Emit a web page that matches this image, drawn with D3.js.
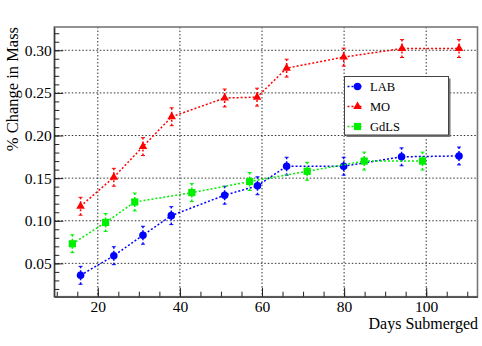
<!DOCTYPE html>
<html>
<head>
<meta charset="utf-8">
<script src="https://cdn.jsdelivr.net/npm/d3@7"></script>
<style>
  body { margin: 0; background: #fff; }
  svg text { font-family: "Liberation Serif", "DejaVu Serif", serif !important; }
</style>
</head>
<body>
<svg id="chart"></svg>
<script>
// data
var labDays = [15.8, 23.9, 31.0, 37.9, 50.9, 58.9, 66.0, 79.9, 94.0, 108.0];
var labMass = [0.036, 0.059, 0.083, 0.106, 0.130, 0.141, 0.164, 0.164, 0.175, 0.176];
var moDays = [15.8, 23.9, 31.0, 38.0, 50.9, 58.8, 66.0, 79.9, 94.1, 108.0];
var moMass = [0.117, 0.151, 0.187, 0.222, 0.244, 0.245, 0.279, 0.292, 0.302, 0.302];
var gdDays = [13.8, 21.9, 29.0, 42.9, 57.0, 71.0, 84.9, 99.1];
var gdMass = [0.073, 0.098, 0.122, 0.133, 0.146, 0.158, 0.170, 0.170];
var massErr = 0.0105;
var seriesNames = ['LAB', 'MO', 'GdLS'];
var xTicks = [20, 40, 60, 80, 100];
var yTicks = [0.05, 0.10, 0.15, 0.20, 0.25, 0.30];

var svgWidth = 482, svgHeight = 346;
var margin = { top: 27, right: 4.5, bottom: 49.3, left: 54.3 };
var width = svgWidth - margin.left - margin.right;
var height = svgHeight - margin.top - margin.bottom;

var svg = d3.select('#chart')
    .attr('width', svgWidth)
    .attr('height', svgHeight);

var chartArea = svg.append('g')
    .attr('transform', 'translate(' + margin.left + ',' + margin.top + ')');

var x = d3.scaleLinear().domain([9.4, 112.5]).range([0, width]);
var y = d3.scaleLinear().domain([0.0109, 0.3273]).range([height, 0]);

// grid
chartArea.append('g').selectAll('line')
    .data(xTicks).enter().append('line')
    .attr('x1', function(d) { return x(d); })
    .attr('x2', function(d) { return x(d); })
    .attr('y1', 0).attr('y2', height)
    .attr('stroke', '#333').attr('stroke-width', 1)
    .attr('stroke-dasharray', '1.5,2');
chartArea.append('g').selectAll('line')
    .data(yTicks).enter().append('line')
    .attr('x1', 0).attr('x2', width)
    .attr('y1', function(d) { return y(d); })
    .attr('y2', function(d) { return y(d); })
    .attr('stroke', '#333').attr('stroke-width', 1)
    .attr('stroke-dasharray', '1.5,2');

// frame
chartArea.append('rect')
    .attr('width', width).attr('height', height)
    .attr('fill', 'none').attr('stroke', '#777').attr('stroke-width', 1.6);

// minor ticks
var xMinor = d3.range(10, 112, 5);
var yMinor = d3.range(0.02, 0.33, 0.01);
chartArea.append('g')
    .attr('transform', 'translate(0,' + height + ')')
    .call(d3.axisBottom(x).tickValues(xMinor).tickSizeInner(-5).tickSizeOuter(0).tickFormat(''))
    .call(function(g) { g.select('.domain').remove(); });
chartArea.append('g')
    .call(d3.axisLeft(y).tickValues(yMinor).tickSizeInner(-5).tickSizeOuter(0).tickFormat(''))
    .call(function(g) { g.select('.domain').remove(); });

// major axes
var xAxis = chartArea.append('g')
    .attr('transform', 'translate(0,' + height + ')')
    .call(d3.axisBottom(x).tickValues(xTicks).tickSizeInner(-9).tickSizeOuter(0).tickPadding(4));
var yAxis = chartArea.append('g')
    .call(d3.axisLeft(y).tickValues(yTicks).tickSizeInner(-9).tickSizeOuter(0).tickPadding(2.5)
        .tickFormat(d3.format('.2f')));
chartArea.selectAll('.tick line').attr('stroke', '#222');
chartArea.selectAll('.domain').attr('stroke', '#222');
xAxis.attr('font-size', 15.5).selectAll('text').attr('fill', '#000');
yAxis.attr('font-size', 15.5).selectAll('text').attr('fill', '#000');

// axis titles
svg.append('text')
    .attr('x', 478).attr('y', 329)
    .attr('text-anchor', 'end')
    .style('font-size', '16px')
    .text('Days Submerged');
svg.append('text')
    .attr('transform', 'translate(18,27) rotate(-90)')
    .attr('text-anchor', 'end')
    .style('font-size', '16.5px')
    .text('% Change in Mass');

var series = [
    { name: seriesNames[0], days: labDays, mass: labMass, color: '#0000ff', shape: d3.symbolCircle, size: 45 },
    { name: seriesNames[1], days: moDays, mass: moMass, color: '#ff0000', shape: d3.symbolTriangle, size: 32 },
    { name: seriesNames[2], days: gdDays, mass: gdMass, color: '#00ee00', shape: d3.symbolSquare, size: 52 }
];

var line = d3.line()
    .x(function(d) { return x(d[0]); })
    .y(function(d) { return y(d[1]); });

series.forEach(function(s) {
    var pts = s.days.map(function(d, i) { return [d, s.mass[i]]; });
    var g = chartArea.append('g');

    g.append('path')
        .datum(pts)
        .attr('d', line)
        .attr('fill', 'none')
        .attr('stroke', s.color)
        .attr('stroke-width', 1.5)
        .attr('stroke-dasharray', '2,2');

    // error bars
    g.selectAll('.err').data(pts).enter().append('line')
        .attr('x1', function(d) { return x(d[0]); })
        .attr('x2', function(d) { return x(d[0]); })
        .attr('y1', function(d) { return y(d[1] - massErr); })
        .attr('y2', function(d) { return y(d[1] + massErr); })
        .attr('stroke', s.color).attr('stroke-width', 1.5)
        .attr('stroke-dasharray', '2,2');
    g.selectAll('.cap').data(pts.concat(pts)).enter().append('line')
        .attr('x1', function(d) { return x(d[0]) - 2; })
        .attr('x2', function(d) { return x(d[0]) + 2; })
        .attr('y1', function(d, i) { return y(d[1] + (i < pts.length ? massErr : -massErr)); })
        .attr('y2', function(d, i) { return y(d[1] + (i < pts.length ? massErr : -massErr)); })
        .attr('stroke', s.color).attr('stroke-width', 1);

    g.selectAll('.mark').data(pts).enter().append('path')
        .attr('d', d3.symbol().type(s.shape).size(s.size))
        .attr('transform', function(d) { return 'translate(' + x(d[0]) + ',' + y(d[1]) + ')'; })
        .attr('fill', s.color);
});

// legend
var legend = svg.append('g').attr('transform', 'translate(344.5,76.5)');
legend.append('rect')
    .attr('x', 2).attr('y', 2).attr('width', 104).attr('height', 58.5)
    .attr('fill', '#777');
legend.append('rect')
    .attr('width', 104).attr('height', 58.5)
    .attr('fill', '#fff').attr('stroke', '#444').attr('stroke-width', 1);

series.forEach(function(s, i) {
    var ly = 10 + i * 20;
    legend.append('line')
        .attr('x1', 3).attr('x2', 17)
        .attr('y1', ly).attr('y2', ly)
        .attr('stroke', s.color).attr('stroke-width', 1.5)
        .attr('stroke-dasharray', '2,2');
    legend.append('path')
        .attr('d', d3.symbol().type(s.shape).size(s.size))
        .attr('transform', 'translate(13,' + ly + ')')
        .attr('fill', s.color);
    legend.append('text')
        .attr('x', 25.5).attr('y', ly + 4.5)
        .style('font-size', '12.5px')
        .text(s.name);
});
</script>
</body>
</html>
